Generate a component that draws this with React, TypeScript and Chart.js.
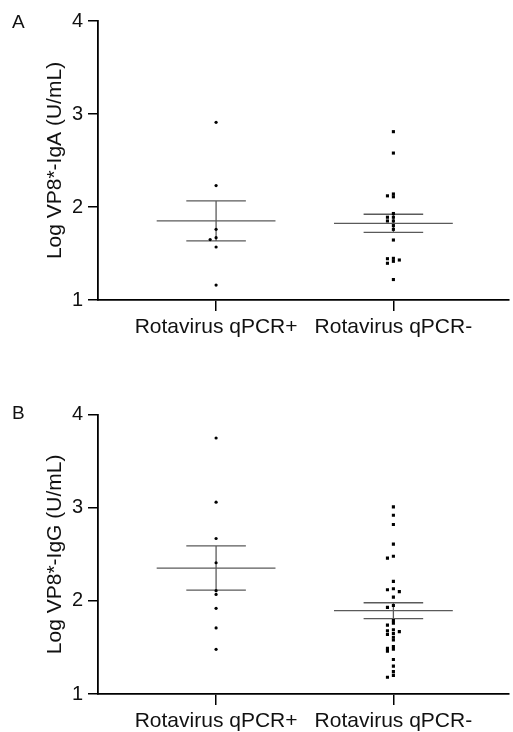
import React, { useEffect, useRef } from "react";
import { Chart, registerables } from "chart.js";

Chart.register(...registerables);

// ---------- data ----------
const categories = ["Rotavirus qPCR+", "Rotavirus qPCR-"];
const yTickValues = [1, 2, 3, 4];

const igaPos = [2.91, 2.23, 1.76, 1.67, 1.65, 1.57, 1.16];
const igaNeg = [
  2.81, 2.58, 2.14, 2.12, 2.11, 1.93, 1.89, 1.89, 1.85, 1.85, 1.8, 1.76, 1.645,
  1.448, 1.444, 1.43, 1.416, 1.395, 1.22,
];
const igaMean = [1.85, 1.825];
const igaSem = [0.215, 0.097];

const iggPos = [3.75, 3.06, 2.67, 2.41, 2.11, 2.07, 1.92, 1.71, 1.48];
const iggNeg = [
  3.01, 2.92, 2.82, 2.61, 2.48, 2.46, 2.21, 2.13, 2.12, 2.1, 2.04, 1.95, 1.93,
  1.79, 1.76, 1.74, 1.69, 1.68, 1.67, 1.65, 1.64, 1.61, 1.58, 1.51, 1.49, 1.48,
  1.46, 1.37, 1.3, 1.24, 1.2, 1.18,
];
const iggMean = [2.353, 1.895];
const iggSem = [0.238, 0.085];

const titleA = "Log VP8*-IgA (U/mL)";
const titleB = "Log VP8*-IgG (U/mL)";

// ---------- helpers ----------
const FONT = "'Liberation Sans', Arial, Helvetica, sans-serif";
const LINE_COLOR = "#5a5a5a";

function swarm(values: number[], step: number, minGap: number): number[] {
  const placed: { o: number; v: number }[] = [];
  const cands = [0, -1, 1, -2, 2];
  return values.map((v) => {
    for (const c of cands) {
      if (!placed.some((p) => p.o === c && Math.abs(p.v - v) < minGap)) {
        placed.push({ o: c, v });
        return c * step;
      }
    }
    placed.push({ o: 0, v });
    return 0;
  });
}

function buildDatasets(groups: number[][], means: number[], sems: number[]) {
  const ds: any[] = [];
  const styles = [
    { pointStyle: "circle", radius: 1.6 },
    { pointStyle: "rect", radius: 2.2 },
  ];
  means.forEach((m, i) => {
    const c = i + 1;
    const s = sems[i];
    const segs = [
      [
        { x: c - 0.335, y: m },
        { x: c + 0.335, y: m },
      ],
      [
        { x: c - 0.168, y: m + s },
        { x: c + 0.168, y: m + s },
      ],
      [
        { x: c - 0.168, y: m - s },
        { x: c + 0.168, y: m - s },
      ],
      [
        { x: c, y: m - s },
        { x: c, y: m + s },
      ],
    ];
    segs.forEach((seg) =>
      ds.push({
        type: "line",
        data: seg,
        borderColor: LINE_COLOR,
        borderWidth: 1.3,
        pointRadius: 0,
        showLine: true,
        fill: false,
        order: 2,
      })
    );
  });
  groups.forEach((vals, i) => {
    const offs = swarm(vals, 0.0335, 0.03);
    ds.push({
      type: "scatter",
      data: vals.map((v, k) => ({ x: i + 1 + offs[k], y: v })),
      backgroundColor: "#000",
      borderColor: "#000",
      borderWidth: 0,
      pointStyle: styles[i].pointStyle,
      pointRadius: styles[i].radius,
      order: 1,
    });
  });
  return ds;
}

function makeChart(
  canvas: HTMLCanvasElement,
  groups: number[][],
  means: number[],
  sems: number[],
  title: string,
  padTop: number,
  xAxisHeight: number
) {
  return new Chart(canvas, {
    type: "scatter",
    data: { datasets: buildDatasets(groups, means, sems) },
    options: {
      animation: false,
      responsive: false,
      devicePixelRatio: 1,
      layout: { padding: { top: padTop, left: 0, right: 0, bottom: 0 } },
      plugins: {
        legend: { display: false },
        tooltip: { enabled: false },
      },
      scales: {
        x: {
          type: "linear",
          min: 0.334,
          max: 2.652,
          afterBuildTicks: (scale: any) => {
            scale.ticks = categories.map((_, i) => ({ value: i + 1 }));
          },
          afterFit: (scale: any) => {
            scale.height = xAxisHeight;
          },
          ticks: {
            autoSkip: false,
            maxRotation: 0,
            padding: 4,
            color: "#111",
            font: { family: FONT, size: 21 },
            callback: (v: any) => categories[Math.round(Number(v)) - 1] ?? "",
          },
          grid: {
            drawOnChartArea: false,
            drawTicks: true,
            tickLength: 11,
            color: "#000",
            lineWidth: 1.5,
          },
          border: { display: true, color: "#000", width: 1.8 },
        },
        y: {
          type: "linear",
          min: 1,
          max: 4,
          afterBuildTicks: (scale: any) => {
            scale.ticks = yTickValues.map((v) => ({ value: v }));
          },
          afterFit: (scale: any) => {
            scale.width = 98;
          },
          ticks: {
            padding: 5,
            color: "#111",
            font: { family: FONT, size: 20 },
          },
          grid: {
            drawOnChartArea: false,
            drawTicks: true,
            tickLength: 10,
            color: "#000",
            lineWidth: 1.5,
          },
          border: { display: true, color: "#000", width: 1.8 },
          title: {
            display: true,
            text: title,
            color: "#111",
            font: { family: FONT, size: 21 },
            padding: { top: 43, bottom: 0 },
          },
        },
      },
    },
  } as any);
}

export default function App() {
  const refA = useRef<HTMLCanvasElement>(null);
  const refB = useRef<HTMLCanvasElement>(null);

  useEffect(() => {
    const a = makeChart(refA.current!, [igaPos, igaNeg], igaMean, igaSem, titleA, 21, 45);
    const b = makeChart(refB.current!, [iggPos, iggNeg], iggMean, iggSem, titleB, 34.7, 38);
    return () => {
      a.destroy();
      b.destroy();
    };
  }, []);

  const letter: React.CSSProperties = {
    position: "absolute",
    fontFamily: FONT,
    fontSize: 19,
    lineHeight: "19px",
    color: "#111",
  };

  return (
    <div
      style={{
        position: "fixed",
        left: 0,
        top: 0,
        width: 513,
        height: 732,
        background: "#fff",
        overflow: "hidden",
      }}
    >
      <canvas
        ref={refA}
        width={513}
        height={345}
        style={{ position: "absolute", left: 0, top: 0, width: 513, height: 345 }}
      />
      <canvas
        ref={refB}
        width={513}
        height={352}
        style={{ position: "absolute", left: 0, top: 380, width: 513, height: 352 }}
      />
      <div style={{ ...letter, left: 12, top: 12 }}>A</div>
      <div style={{ ...letter, left: 12, top: 403 }}>B</div>
    </div>
  );
}
